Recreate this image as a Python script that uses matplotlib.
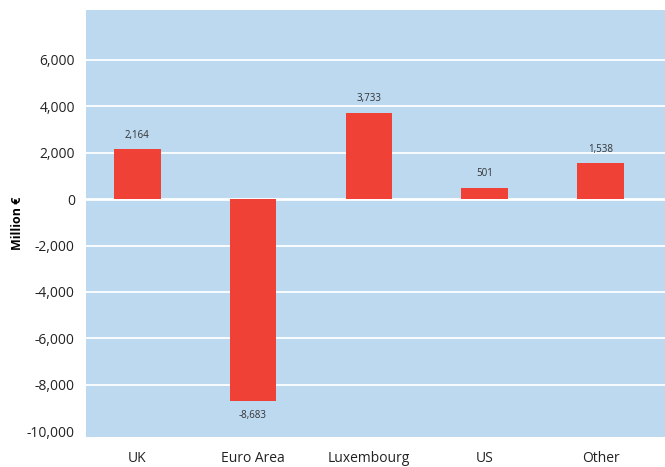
import matplotlib
matplotlib.use('Agg')
import matplotlib.pyplot as plt

plt.rcParams['font.family'] = ['Open Sans', 'DejaVu Sans']

regions = ['UK', 'Euro Area', 'Luxembourg', 'US', 'Other']
values = [2164, -8683, 3733, 501, 1538]
yticks = [-10000, -8000, -6000, -4000, -2000, 0, 2000, 4000, 6000]

fig = plt.figure(figsize=(6.65, 4.67), dpi=100)
ax = fig.add_axes([0.1293, 0.0642, 0.8707, 0.9144])
ax.set_facecolor('#bdd9f0')

x = list(range(len(regions)))
ax.bar(x, values, width=0.405, color='#ef4136', zorder=3)

# value labels above / below bars
for xi, v in zip(x, values):
    if v >= 0:
        ax.annotate(f'{v:,}', (xi, v), xytext=(0, 6), textcoords='offset points',
                    ha='center', va='bottom', fontsize=7, color='#333333')
    else:
        ax.annotate(f'{v:,}', (xi, v), xytext=(0, -7), textcoords='offset points',
                    ha='center', va='top', fontsize=7, color='#333333')

ax.set_xlim(-0.44, 4.552)
ax.set_ylim(-10250, 8150)
ax.set_xticks(x)
ax.set_xticklabels(regions)
ax.set_yticks(yticks)
ax.set_yticklabels([f'{t:,}' for t in yticks])
ax.tick_params(axis='both', length=0, labelsize=10, colors='#222222')
ax.tick_params(axis='x', pad=10)
ax.tick_params(axis='y', pad=8)

for t in yticks:
    if t == -10000:
        continue
    ax.axhline(t, color='white', lw=2.0 if t == 0 else 1.3, zorder=2)

for s in ax.spines.values():
    s.set_visible(False)

ax.set_ylabel('Million €', fontsize=9, fontweight='bold', labelpad=2)

plt.savefig('out.png', dpi=100)
